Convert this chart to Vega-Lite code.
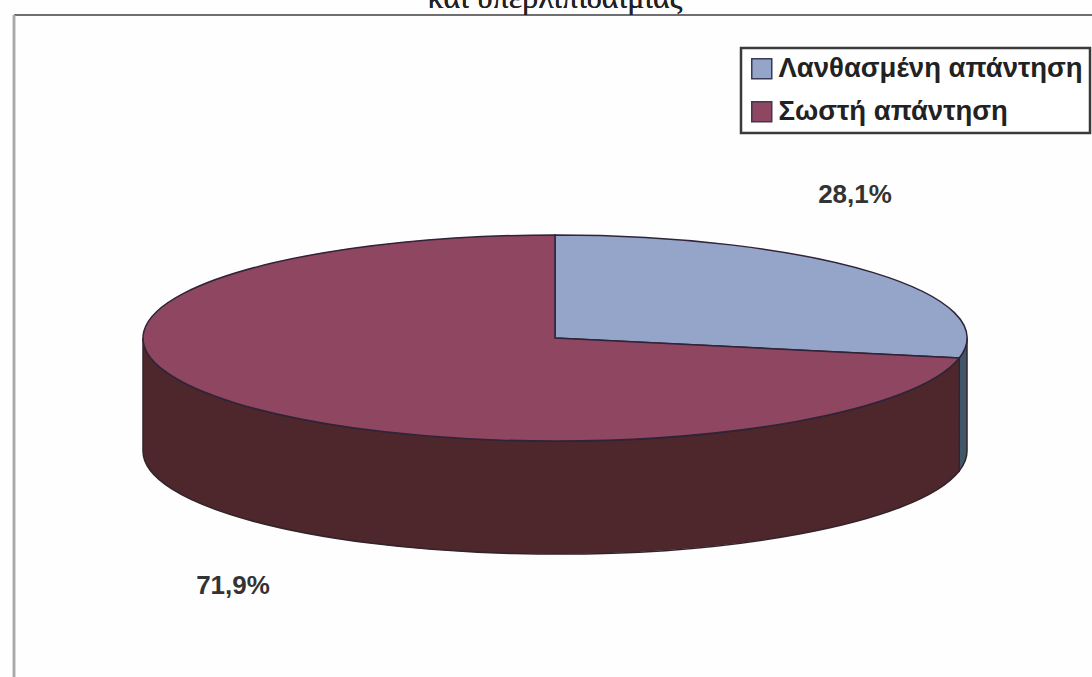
{
  "$schema": "https://vega.github.io/schema/vega-lite/v6.json",
  "width": 1092,
  "height": 677,
  "padding": 0,
  "autosize": {"type": "none"},
  "background": "#fffefe",
  "view": {"stroke": null},
  "config": {"axis": {"grid": false}},
  "data": {
    "values": [
      {"answer": "Λανθασμένη απάντηση", "share": 28.1, "label": "28,1%"},
      {"answer": "Σωστή απάντηση", "share": 71.9, "label": "71,9%"}
    ]
  },
  "encoding": {
    "x": {"datum": 0, "type": "quantitative", "axis": null, "scale": {"domain": [-555, 537], "nice": false, "zero": false}},
    "y": {"datum": 0, "type": "quantitative", "axis": null, "scale": {"domain": [-338, 339], "reverse": true, "nice": false, "zero": false}}
  },
  "layer": [
    {
      "mark": {"type": "rule", "color": "#6f6f6f", "strokeWidth": 2},
      "encoding": {
        "x": {"datum": -541},
        "x2": {"datum": 537},
        "y": {"datum": -323}
      }
    },
    {
      "mark": {"type": "rule", "color": "#a8a8a8", "strokeWidth": 2.5},
      "encoding": {
        "x": {"datum": -541},
        "y": {"datum": -323},
        "y2": {"datum": 339}
      }
    },
    {
      "mark": {"type": "text", "font": "Liberation Serif", "fontSize": 32, "color": "#222222", "baseline": "alphabetic", "align": "center"},
      "encoding": {
        "x": {"datum": 0},
        "y": {"datum": -330},
        "text": {"value": "και υπερλιπιδαιμίας"}
      }
    },
    {
      "description": "Rim of the disc, drawn under the top faces",
      "mark": {"type": "point", "size": 4, "opacity": 1, "filled": true, "stroke": "#33232b", "strokeWidth": 1.5},
      "encoding": {
        "fill": {
          "field": "answer",
          "type": "nominal",
          "legend": null,
          "scale": {"domain": ["Λανθασμένη απάντηση", "Σωστή απάντηση"], "range": ["#3f5768", "#4e272d"]}
        },
        "shape": {
          "field": "share",
          "type": "nominal",
          "legend": null,
          "scale": {
            "domain": [28.1, 71.9],
            "range": [
              "M404.2,20 A412,103 0 0 0 412,0 L412,113 A412,103 0 0 1 404.2,133 Z",
              "M-412,0 A412,103 0 0 0 404.2,20 L404.2,133 A412,103 0 0 1 -412,113 Z"
            ]
          }
        }
      }
    },
    {
      "description": "Top faces of the two wedges",
      "mark": {"type": "point", "size": 4, "opacity": 1, "filled": true, "stroke": "#2f2438", "strokeWidth": 1.5},
      "encoding": {
        "fill": {
          "field": "answer",
          "type": "nominal",
          "scale": {"domain": ["Λανθασμένη απάντηση", "Σωστή απάντηση"], "range": ["#95a5c9", "#8f4660"]},
          "legend": {
            "title": null,
            "orient": "none",
            "legendX": 741,
            "legendY": 48,
            "padding": 7,
            "fillColor": "#ffffff",
            "strokeColor": "#3a3a3a",
            "symbolType": "square",
            "symbolSize": 400,
            "symbolStrokeColor": "#3a3a55",
            "symbolStrokeWidth": 1.5,
            "symbolOpacity": 1,
            "labelFont": "Liberation Sans",
            "labelFontWeight": "bold",
            "labelFontSize": 27.5,
            "labelColor": "#222222",
            "labelLimit": 340,
            "labelOffset": 3,
            "rowPadding": 14,
            "encode": {"legend": {"update": {"strokeWidth": {"value": 2.5}}}}
          }
        },
        "shape": {
          "field": "share",
          "type": "nominal",
          "legend": null,
          "scale": {
            "domain": [28.1, 71.9],
            "range": [
              "M0,0 L0,-103 A412,103 0 0 1 404.2,20 Z",
              "M0,0 L404.2,20 A412,103 0 1 1 0,-103 Z"
            ]
          }
        }
      }
    },
    {
      "transform": [{"filter": "datum.share < 50"}],
      "mark": {"type": "text", "font": "Liberation Sans", "fontWeight": "bold", "fontSize": 26, "color": "#333333"},
      "encoding": {
        "x": {"datum": 300},
        "y": {"datum": -143},
        "text": {"field": "label"}
      }
    },
    {
      "transform": [{"filter": "datum.share > 50"}],
      "mark": {"type": "text", "font": "Liberation Sans", "fontWeight": "bold", "fontSize": 26, "color": "#333333"},
      "encoding": {
        "x": {"datum": -322},
        "y": {"datum": 248},
        "text": {"field": "label"}
      }
    }
  ],
  "resolve": {"scale": {"fill": "independent", "shape": "independent"}}
}
